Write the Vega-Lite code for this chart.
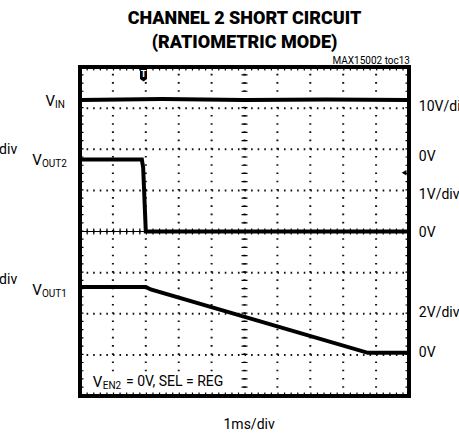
{
  "$schema": "https://vega.github.io/schema/vega-lite/v6.json",
  "width": 329,
  "height": 329,
  "autosize": {"type": "none"},
  "padding": {"left": 80, "top": 67, "right": 50, "bottom": 40},
  "background": "white",
  "title": {
    "text": ["CHANNEL 2 SHORT CIRCUIT", "(RATIOMETRIC MODE)"],
    "font": "Roboto",
    "fontWeight": 900,
    "fontSize": 18,
    "lineHeight": 24,
    "anchor": "middle",
    "offset": 4,
    "color": "black"
  },
  "config": {
    "view": {"stroke": "black", "strokeWidth": 4},
    "text": {"font": "Roboto", "fontSize": 14, "color": "black"}
  },
  "datasets": {
    "traces": [
      {"series": "VIN", "t": 0, "v": 7.2},
      {"series": "VIN", "t": 2.5, "v": 7.22},
      {"series": "VIN", "t": 5, "v": 7.2},
      {"series": "VIN", "t": 7.5, "v": 7.21},
      {"series": "VIN", "t": 10, "v": 7.2},
      {"series": "VOUT2", "t": 0, "v": 5.75},
      {"series": "VOUT2", "t": 1.88, "v": 5.75},
      {"series": "VOUT2", "t": 1.92, "v": 5.55},
      {"series": "VOUT2", "t": 2.0, "v": 4.0},
      {"series": "VOUT2", "t": 10, "v": 4.0},
      {"series": "VOUT1", "t": 0, "v": 2.65},
      {"series": "VOUT1", "t": 2.0, "v": 2.65},
      {"series": "VOUT1", "t": 2.15, "v": 2.59},
      {"series": "VOUT1", "t": 8.75, "v": 1.05},
      {"series": "VOUT1", "t": 10, "v": 1.05}
    ],
    "gridX": [{"t": 1}, {"t": 2}, {"t": 3}, {"t": 4}, {"t": 5}, {"t": 6}, {"t": 7}, {"t": 8}, {"t": 9}],
    "gridY": [{"v": 1}, {"v": 2}, {"v": 3}, {"v": 4}, {"v": 5}, {"v": 6}, {"v": 7}],
    "rightLabels": [
      {"label": "10V/div", "level": 7.03},
      {"label": "0V", "level": 5.82},
      {"label": "1V/div", "level": 4.89},
      {"label": "0V", "level": 3.97},
      {"label": "2V/div", "level": 2.02},
      {"label": "0V", "level": 1.05}
    ]
  },
  "layer": [
    {
      "data": {"name": "gridX"},
      "mark": {"type": "rule", "color": "#111", "strokeWidth": 2, "strokeDash": [1.6, 6.62]},
      "encoding": {
        "x": {"field": "t", "type": "quantitative", "scale": {"domain": [0, 10], "nice": false, "zero": false}, "axis": null},
        "y": {"datum": 0, "scale": {"domain": [0, 8], "nice": false, "zero": false}, "axis": null},
        "y2": {"datum": 8}
      }
    },
    {
      "data": {"name": "gridY"},
      "mark": {"type": "rule", "color": "#111", "strokeWidth": 2, "strokeDash": [1.6, 4.98]},
      "encoding": {
        "y": {"field": "v", "type": "quantitative", "axis": null},
        "x": {"datum": 0, "axis": null},
        "x2": {"datum": 10}
      }
    },
    {
      "data": {"values": [{}]},
      "mark": {"type": "rule", "color": "black", "strokeWidth": 1},
      "encoding": {"x": {"datum": 0, "axis": null}, "x2": {"datum": 10}, "y": {"datum": 4, "axis": null}}
    },
    {
      "data": {"values": [{}]},
      "mark": {"type": "rule", "color": "black", "strokeWidth": 6, "strokeDash": [1.2, 5.38]},
      "encoding": {"x": {"datum": 0, "axis": null}, "x2": {"datum": 10}, "y": {"datum": 4, "axis": null}}
    },
    {
      "data": {"values": [{}]},
      "mark": {"type": "rule", "color": "black", "strokeWidth": 6, "strokeDash": [1.2, 7.02]},
      "encoding": {"x": {"datum": 5, "axis": null}, "y": {"datum": 0, "axis": null}, "y2": {"datum": 8}}
    },
    {
      "data": {"values": [{}]},
      "mark": {"type": "rule", "color": "black", "strokeWidth": 4, "strokeDash": [1.2, 5.38], "yOffset": 1.5},
      "encoding": {"x": {"datum": 0, "axis": null}, "x2": {"datum": 10}, "y": {"datum": 8, "axis": null}}
    },
    {
      "data": {"values": [{}]},
      "mark": {"type": "rule", "color": "black", "strokeWidth": 4, "strokeDash": [1.2, 5.38], "yOffset": -1.5},
      "encoding": {"x": {"datum": 0, "axis": null}, "x2": {"datum": 10}, "y": {"datum": 0, "axis": null}}
    },
    {
      "data": {"values": [{}]},
      "mark": {"type": "rule", "color": "black", "strokeWidth": 4, "strokeDash": [1.2, 7.02], "xOffset": 1.5},
      "encoding": {"x": {"datum": 0, "axis": null}, "y": {"datum": 0, "axis": null}, "y2": {"datum": 8}}
    },
    {
      "data": {"values": [{}]},
      "mark": {"type": "rule", "color": "black", "strokeWidth": 4, "strokeDash": [1.2, 7.02], "xOffset": -1.5},
      "encoding": {"x": {"datum": 10, "axis": null}, "y": {"datum": 0, "axis": null}, "y2": {"datum": 8}}
    },
    {
      "data": {"name": "traces"},
      "mark": {"type": "line", "color": "black", "strokeWidth": 4, "clip": true},
      "encoding": {
        "x": {"field": "t", "type": "quantitative", "axis": null},
        "y": {"field": "v", "type": "quantitative", "axis": null},
        "detail": {"field": "series"}
      }
    },
    {
      "data": {"values": [{}]},
      "mark": {"type": "rect", "color": "white"},
      "encoding": {"x": {"datum": 0.33, "axis": null}, "x2": {"datum": 4.7}, "y": {"datum": 0.14, "axis": null}, "y2": {"datum": 0.55}}
    },
    {
      "data": {"values": [{}]},
      "mark": {"type": "point", "shape": "M-0.6,-1H0.6V0.8L0,1.2L-0.6,0.8Z", "size": 136, "filled": true, "color": "black", "opacity": 1},
      "encoding": {"x": {"datum": 1.93, "axis": null}, "y": {"datum": 7.82, "axis": null}}
    },
    {
      "data": {"values": [{}]},
      "mark": {"type": "text", "text": "T", "color": "white", "fontSize": 9, "fontWeight": "bold", "align": "center", "baseline": "middle"},
      "encoding": {"x": {"datum": 1.93, "axis": null}, "y": {"datum": 7.84, "axis": null}}
    },
    {
      "data": {"values": [{}]},
      "mark": {"type": "point", "shape": "triangle-left", "size": 30, "filled": true, "color": "black", "opacity": 1},
      "encoding": {"x": {"datum": 9.85, "axis": null}, "y": {"datum": 5.43, "axis": null}}
    },
    {
      "data": {"name": "rightLabels"},
      "mark": {"type": "text", "align": "left", "baseline": "middle", "fontSize": 14},
      "encoding": {
        "x": {"datum": 10.3, "axis": null},
        "y": {"field": "level", "type": "quantitative", "axis": null},
        "text": {"field": "label"}
      }
    },
    {
      "data": {"values": [{}]},
      "mark": {"type": "text", "text": "V", "align": "right", "baseline": "middle", "fontSize": 15},
      "encoding": {"x": {"datum": -0.76, "axis": null}, "y": {"datum": 7.17, "axis": null}}
    },
    {
      "data": {"values": [{}]},
      "mark": {"type": "text", "text": "IN", "align": "right", "baseline": "middle", "fontSize": 10},
      "encoding": {"x": {"datum": -0.46, "axis": null}, "y": {"datum": 7.08, "axis": null}}
    },
    {
      "data": {"values": [{}]},
      "mark": {"type": "text", "text": "V", "align": "right", "baseline": "middle", "fontSize": 15},
      "encoding": {"x": {"datum": -1.16, "axis": null}, "y": {"datum": 5.74, "axis": null}}
    },
    {
      "data": {"values": [{}]},
      "mark": {"type": "text", "text": "OUT2", "align": "right", "baseline": "middle", "fontSize": 10},
      "encoding": {"x": {"datum": -0.4, "axis": null}, "y": {"datum": 5.65, "axis": null}}
    },
    {
      "data": {"values": [{}]},
      "mark": {"type": "text", "text": "V", "align": "right", "baseline": "middle", "fontSize": 15},
      "encoding": {"x": {"datum": -1.16, "axis": null}, "y": {"datum": 2.58, "axis": null}}
    },
    {
      "data": {"values": [{}]},
      "mark": {"type": "text", "text": "OUT1", "align": "right", "baseline": "middle", "fontSize": 10},
      "encoding": {"x": {"datum": -0.4, "axis": null}, "y": {"datum": 2.49, "axis": null}}
    },
    {
      "data": {"values": [{}]},
      "mark": {"type": "text", "text": "1V/div", "align": "right", "baseline": "middle", "fontSize": 14},
      "encoding": {"x": {"datum": -1.91, "axis": null}, "y": {"datum": 5.99, "axis": null}}
    },
    {
      "data": {"values": [{}]},
      "mark": {"type": "text", "text": "2V/div", "align": "right", "baseline": "middle", "fontSize": 14},
      "encoding": {"x": {"datum": -1.91, "axis": null}, "y": {"datum": 2.82, "axis": null}}
    },
    {
      "data": {"values": [{}]},
      "mark": {"type": "text", "text": "V", "align": "left", "baseline": "middle", "fontSize": 15},
      "encoding": {"x": {"datum": 0.39, "axis": null}, "y": {"datum": 0.34, "axis": null}}
    },
    {
      "data": {"values": [{}]},
      "mark": {"type": "text", "text": "EN2", "align": "left", "baseline": "middle", "fontSize": 10},
      "encoding": {"x": {"datum": 0.69, "axis": null}, "y": {"datum": 0.25, "axis": null}}
    },
    {
      "data": {"values": [{}]},
      "mark": {"type": "text", "text": "= 0V, SEL = REG", "align": "left", "baseline": "middle", "fontSize": 14},
      "encoding": {"x": {"datum": 1.4, "axis": null}, "y": {"datum": 0.34, "axis": null}}
    },
    {
      "data": {"values": [{}]},
      "mark": {"type": "text", "text": "1ms/div", "align": "center", "baseline": "middle", "fontSize": 14},
      "encoding": {"x": {"datum": 5.14, "axis": null}, "y": {"datum": -0.7, "axis": null}}
    },
    {
      "data": {"values": [{}]},
      "mark": {"type": "text", "text": "MAX15002 toc13", "align": "right", "baseline": "middle", "fontSize": 10},
      "encoding": {"x": {"datum": 10.03, "axis": null}, "y": {"datum": 8.14, "axis": null}}
    }
  ]
}
